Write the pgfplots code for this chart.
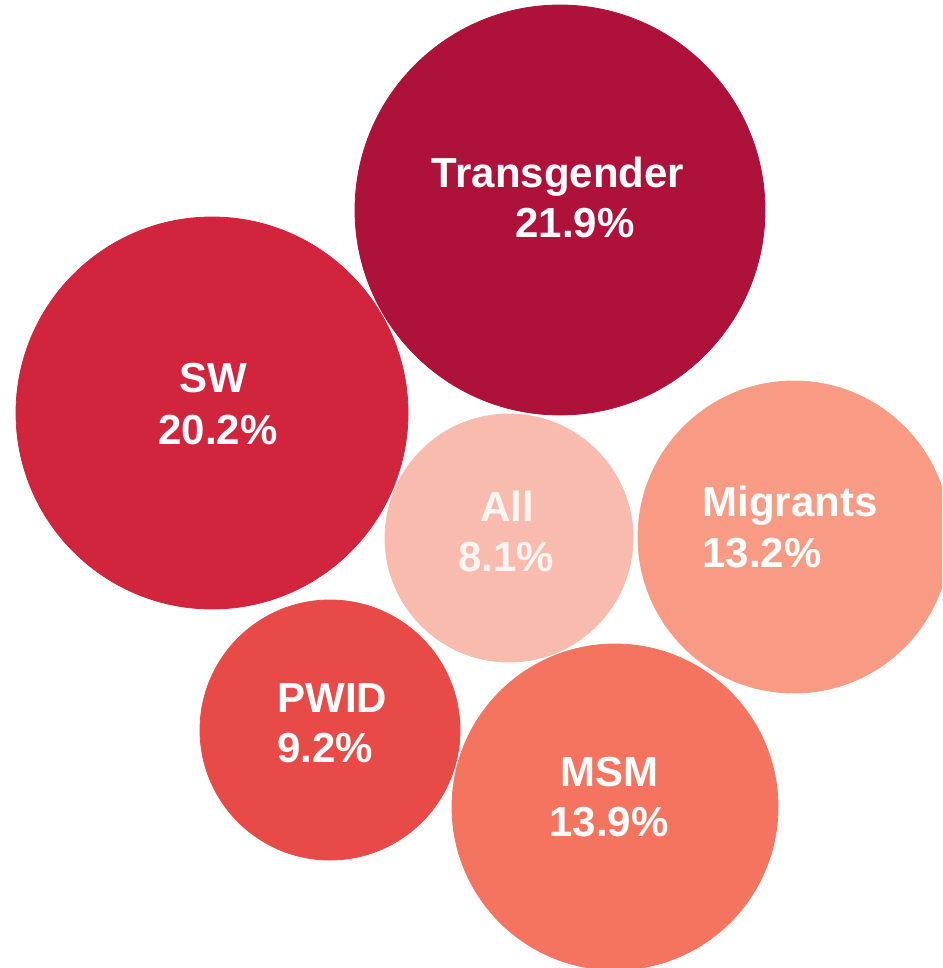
\documentclass[border=0pt]{standalone}
\usepackage{pgfplots}
\pgfplotsset{compat=1.18}
\usepackage{fontspec}
\setmainfont{Liberation Sans}
\definecolor{cTrans}{HTML}{AE1139}
\definecolor{cSW}{HTML}{D0253C}
\definecolor{cAll}{HTML}{F9BBAD}
\definecolor{cMig}{HTML}{F99B84}
\definecolor{cPWID}{HTML}{E84B47}
\definecolor{cMSM}{HTML}{F47460}
\begin{document}
\begin{tikzpicture}
\begin{axis}[
  width=471pt, height=484pt, scale only axis,
  xmin=0, xmax=942, ymin=0, ymax=968, y dir=reverse,
  hide axis, clip=true, clip marker paths=true,
  every axis plot/.append style={only marks, mark=*},
]
% bubbles: (center x, center y) in px, radius via mark size (px/2 pt)
\addplot[color=cTrans, mark options={draw=cTrans, fill=cTrans}, mark size=102.5pt] coordinates {(560,210)};
\addplot[color=cSW, mark options={draw=cSW, fill=cSW}, mark size=98pt] coordinates {(212,413)};
\addplot[color=cAll, mark options={draw=cAll, fill=cAll}, mark size=62pt] coordinates {(509,538)};
\addplot[color=cMig, mark options={draw=cMig, fill=cMig}, mark size=78pt] coordinates {(794,537)};
\addplot[color=cPWID, mark options={draw=cPWID, fill=cPWID}, mark size=65pt] coordinates {(330,730)};
\addplot[color=cMSM, mark options={draw=cMSM, fill=cMSM}, mark size=81.5pt] coordinates {(615,807)};

\coordinate (t1) at (axis cs:558,188);
\coordinate (t2) at (axis cs:575,238);
\coordinate (s1) at (axis cs:213,393);
\coordinate (s2) at (axis cs:218,445);
\coordinate (a1) at (axis cs:507,522);
\coordinate (a2) at (axis cs:506,572);
\coordinate (m1) at (axis cs:702,517);
\coordinate (m2) at (axis cs:702,568);
\coordinate (p1) at (axis cs:277,713);
\coordinate (p2) at (axis cs:277,763);
\coordinate (q1) at (axis cs:609,787);
\coordinate (q2) at (axis cs:609,837);
\end{axis}
\pgfresetboundingbox
\path[use as bounding box] (current axis.south west) rectangle (current axis.north east);
\tikzset{lbl/.style={text=white, inner sep=0pt, font=\bfseries\fontsize{21}{24}\selectfont}}
\node[lbl, anchor=base] at (t1) {Transgender};
\node[lbl, anchor=base] at (t2) {21.9\%};
\node[lbl, anchor=base] at (s1) {SW};
\node[lbl, anchor=base] at (s2) {20.2\%};
\node[lbl, anchor=base, text=white!85!cAll] at (a1) {All};
\node[lbl, anchor=base, text=white!85!cAll] at (a2) {8.1\%};
\node[lbl, anchor=base west] at (m1) {Migrants};
\node[lbl, anchor=base west] at (m2) {13.2\%};
\node[lbl, anchor=base west] at (p1) {PWID};
\node[lbl, anchor=base west] at (p2) {9.2\%};
\node[lbl, anchor=base] at (q1) {MSM};
\node[lbl, anchor=base] at (q2) {13.9\%};
\end{tikzpicture}
\end{document}
